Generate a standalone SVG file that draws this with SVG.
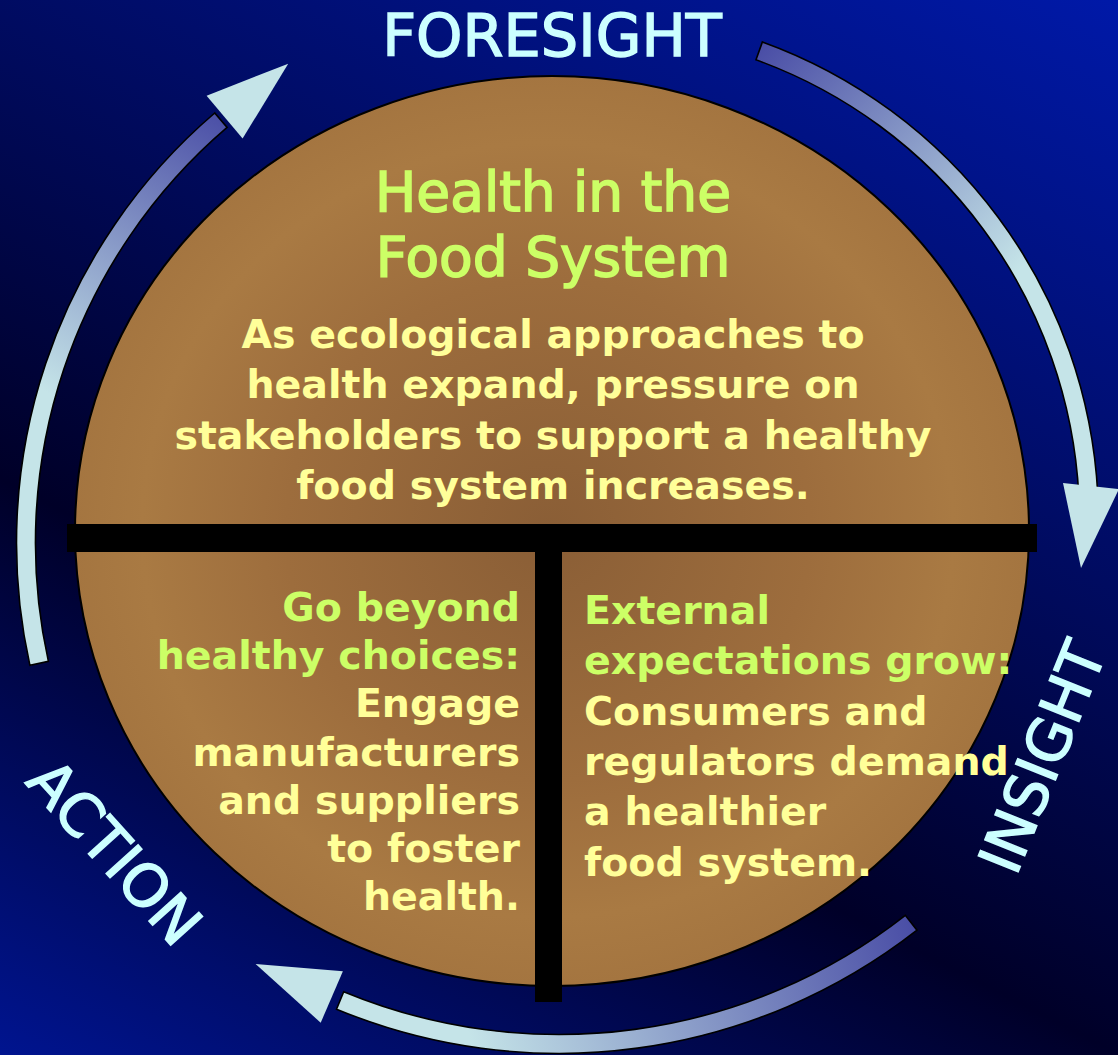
<svg xmlns="http://www.w3.org/2000/svg" width="1118" height="1055" viewBox="0 0 1118 1055">
  <defs>
    <linearGradient id="bg" gradientUnits="userSpaceOnUse" x1="1118" y1="0" x2="456" y2="1288">
      <stop offset="0" stop-color="#0019a8"/>
      <stop offset="0.647" stop-color="#000028"/>
      <stop offset="1" stop-color="#00148f"/>
    </linearGradient>
    <radialGradient id="brown" gradientUnits="userSpaceOnUse" cx="548" cy="530" r="477" gradientTransform="translate(548 530) scale(1 0.955) translate(-548 -530)">
      <stop offset="0" stop-color="#8a5e36"/>
      <stop offset="0.55" stop-color="#9d6d3d"/>
      <stop offset="0.85" stop-color="#a97a43"/>
      <stop offset="1" stop-color="#a47540"/>
    </radialGradient>
    <linearGradient id="gL" gradientUnits="userSpaceOnUse" x1="60" y1="400" x2="228" y2="118">
      <stop offset="0" stop-color="#c5e4e8"/>
      <stop offset="1" stop-color="#4a4ea6"/>
    </linearGradient>
    <linearGradient id="gR" gradientUnits="userSpaceOnUse" x1="760" y1="50" x2="1005" y2="285">
      <stop offset="0" stop-color="#4a4ea6"/>
      <stop offset="1" stop-color="#c5e4e8"/>
    </linearGradient>
    <linearGradient id="gB" gradientUnits="userSpaceOnUse" x1="912" y1="922" x2="470" y2="1040">
      <stop offset="0" stop-color="#4a4ea6"/>
      <stop offset="1" stop-color="#c5e4e8"/>
    </linearGradient>
  </defs>
  <style>
    .shaft { stroke: #000; stroke-width: 1.6; stroke-linejoin: miter; }
    .head { fill: #c5e4e8; }
    .ring { font-family: "DejaVu Sans", "Liberation Sans", sans-serif; font-size: 59px; fill: #ccffff; stroke: #ccffff; stroke-width: 1.4; text-anchor: middle; }
    .title { font-family: "DejaVu Sans", "Liberation Sans", sans-serif; font-size: 55px; fill: #ccff66; stroke: #ccff66; stroke-width: 1.6; text-anchor: middle; }
    .body { font-family: "DejaVu Sans", "Liberation Sans", sans-serif; font-size: 39.5px; font-weight: bold; }
    .mid { text-anchor: middle; }
    .end { text-anchor: end; }
    .start { text-anchor: start; }
    .green { fill: #ccff66; }
    .yellow { fill: #ffff99; }
    .bar { fill: #000; }
  </style>

  <rect x="0" y="0" width="1118" height="1055" fill="url(#bg)"/>

  <g id="connectors">
    <g id="arrow-action-foresight">
      <path class="shaft" fill="url(#gL)" d="M 29.9 665.4 A 565.5 565.5 0 0 1 214.7 113.0 L 227.1 127.4 A 546.5 546.5 0 0 0 48.4 661.3 Z"/>
      <path class="head" d="M 288.2 63.7 L 206.6 95.7 L 242.6 138.6 Z"/>
    </g>
    <g id="arrow-foresight-insight">
      <path class="shaft" fill="url(#gR)" d="M 762.4 41.9 A 509.5 509.5 0 0 1 1097.8 494.3 L 1078.8 495.3 A 490.5 490.5 0 0 0 756.0 59.8 Z"/>
      <path class="head" d="M 1081 568 L 1063 483 L 1119 489 Z"/>
    </g>
    <g id="arrow-insight-action">
      <path class="shaft" fill="url(#gB)" d="M 917.0 930.2 A 581.5 581.5 0 0 1 336.5 1009.2 L 343.7 991.7 A 562.5 562.5 0 0 0 905.3 915.3 Z"/>
      <path class="head" d="M 255.6 964 L 320.7 1022.7 L 342.9 971.3 Z"/>
    </g>
  </g>

  <g id="hub">
    <ellipse cx="552" cy="531" rx="477" ry="455" fill="url(#brown)" stroke="#000" stroke-width="2"/>
    <rect class="bar" x="67" y="524" width="970" height="28"/>
    <rect class="bar" x="535" y="524" width="27" height="478"/>
  </g>

  <g id="label-foresight">
    <text class="ring" x="552" y="56">FORESIGHT</text>
  </g>
  <g id="label-action" transform="translate(115 852) rotate(48)">
    <text class="ring" x="0" y="21">ACTION</text>
  </g>
  <g id="label-insight" transform="translate(1042 757) rotate(-68)">
    <text class="ring" x="0" y="21">INSIGHT</text>
  </g>

  <g id="node-top">
    <text class="title" x="553" y="211">Health in the</text>
    <text class="title" x="553" y="276">Food System</text>
    <text class="body yellow mid" x="553" y="348">As ecological approaches to</text>
    <text class="body yellow mid" x="553" y="398">health expand, pressure on</text>
    <text class="body yellow mid" x="553" y="449">stakeholders to support a healthy</text>
    <text class="body yellow mid" x="553" y="499">food system increases.</text>
  </g>

  <g id="node-left">
    <text class="body green end" x="520" y="621">Go beyond</text>
    <text class="body green end" x="520" y="669">healthy choices:</text>
    <text class="body yellow end" x="520" y="717">Engage</text>
    <text class="body yellow end" x="520" y="766">manufacturers</text>
    <text class="body yellow end" x="520" y="814">and suppliers</text>
    <text class="body yellow end" x="520" y="862">to foster</text>
    <text class="body yellow end" x="520" y="910">health.</text>
  </g>

  <g id="node-right">
    <text class="body green start" x="584" y="624">External</text>
    <text class="body green start" x="584" y="674">expectations grow:</text>
    <text class="body yellow start" x="584" y="725">Consumers and</text>
    <text class="body yellow start" x="584" y="775">regulators demand</text>
    <text class="body yellow start" x="584" y="825">a healthier</text>
    <text class="body yellow start" x="584" y="876">food system.</text>
  </g>
</svg>
